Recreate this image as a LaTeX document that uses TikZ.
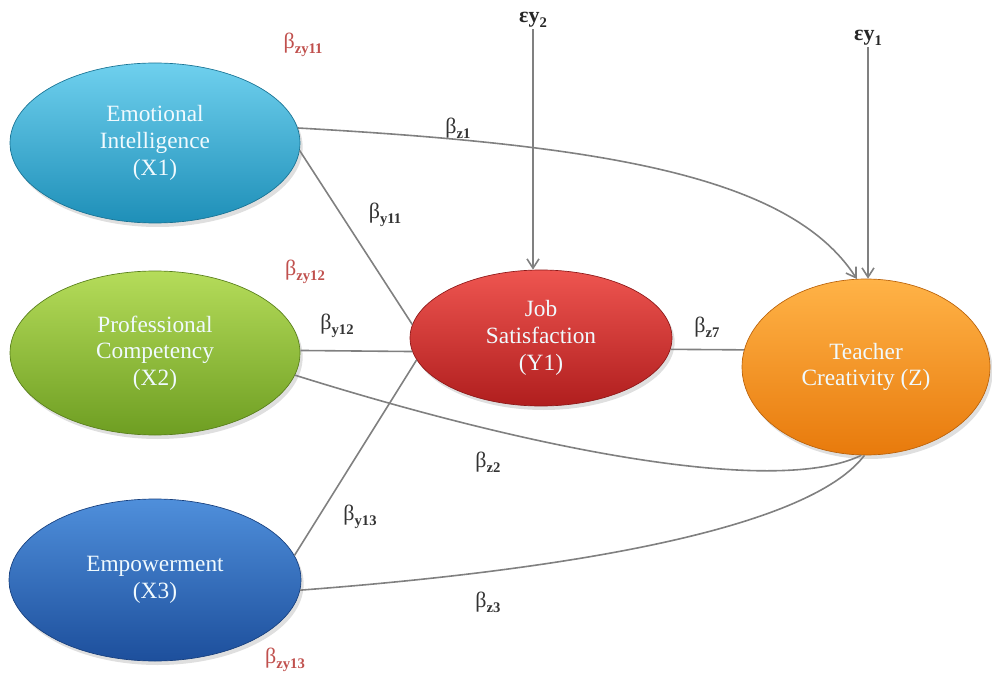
\documentclass[tikz,border=0pt]{standalone}
\usepackage{fontspec}
\setmainfont{Liberation Serif}
\usetikzlibrary{shapes.geometric,arrows.meta,shadows}
\definecolor{cyanT}{HTML}{6FD0EE}
\definecolor{cyanB}{HTML}{1E8FB8}
\definecolor{greenT}{HTML}{B5DC5A}
\definecolor{greenB}{HTML}{6E9E22}
\definecolor{blueT}{HTML}{4F8FDB}
\definecolor{blueB}{HTML}{1D4F9C}
\definecolor{redT}{HTML}{EE5550}
\definecolor{redB}{HTML}{B01E1E}
\definecolor{orangeT}{HTML}{FFB347}
\definecolor{orangeB}{HTML}{E87A0C}
\definecolor{redlab}{HTML}{C0504D}
\definecolor{linegray}{HTML}{808080}
\newcommand{\betalab}[1]{β\raisebox{-0.5ex}{\fontsize{11}{11}\selectfont\bfseries #1}}
\newcommand{\epslab}[1]{\textbf{εy}\raisebox{-0.45ex}{\fontsize{11}{11}\selectfont\bfseries #1}}
\begin{document}
\begin{tikzpicture}[x=0.75pt,y=-0.75pt,
  var/.style={ellipse, inner sep=0pt, align=center, line width=0.5pt,
    font=\fontsize{17.5}{20}\selectfont, text=white!94!cyan,
    drop shadow={opacity=0.25, shadow xshift=2pt, shadow yshift=-3pt}},
  conn/.style={draw=linegray, line width=1.2pt},
  arr/.style={conn, -{Straight Barb[length=7pt,width=9pt]}},
  lab/.style={font=\fontsize{16.5}{16}\selectfont, text=black!80, inner sep=1pt},
  rlab/.style={lab, text=redlab},
  elab/.style={font=\fontsize{16.5}{16}\selectfont, text=black!85, inner sep=1pt}]
\useasboundingbox (0,0) rectangle (992,677);

% variables
\node[var, minimum width=217.5pt, minimum height=120pt, top color=cyanT, bottom color=cyanB, draw=cyanB!80!black]
  (x1) at (155,143) {Emotional\\Intelligence\\(X1)};
\node[var, minimum width=217.5pt, minimum height=123pt, top color=greenT, bottom color=greenB, draw=greenB!80!black]
  (x2) at (155,353) {Professional\\Competency\\(X2)};
\node[var, minimum width=219pt, minimum height=121.5pt, top color=blueT, bottom color=blueB, draw=blueB!80!black]
  (x3) at (155,580) {Empowerment\\(X3)};
\node[var, minimum width=196.5pt, minimum height=102pt, top color=redT, bottom color=redB, draw=redB!80!black]
  (y1) at (541,338) {Job\\Satisfaction\\(Y1)};
\node[var, minimum width=186pt, minimum height=132pt, top color=orangeT, bottom color=orangeB, draw=orangeB!80!black]
  (z) at (866,367) {Teacher\\Creativity (Z)};

% error terms
\node[elab] (e2) at (533,20) {\epslab{2}};
\node[elab] (e1) at (868,38) {\epslab{1}};

% connectors
\draw[conn] (x1.-3) -- (y1.174);
\draw[conn] (x2.1) -- (y1.186);
\draw[conn] (x3.10) -- (y1.190);
\draw[conn] (y1.-5) -- (z.172);
\draw[arr] (x1.6) .. controls (600,145) and (790,175) .. (z.96);
\draw[conn] (x2.-9) .. controls (550,455) and (780,495) .. (z.-93);
\draw[conn] (x3.-4) .. controls (500,575) and (800,540) .. (z.-91);
\draw[arr] (e2.south) -- (e2.south |- y1.north);
\draw[arr] (e1.south) -- (e1.south |- z.north);

% labels
\node[rlab] (lzy11) at (303,45) {\betalab{zy11}};
\node[rlab] (lzy12) at (305,272) {\betalab{zy12}};
\node[rlab] (lzy13) at (285,660) {\betalab{zy13}};
\node[lab] (lz1) at (458,128) {\betalab{z1}};
\node[lab] (ly11) at (385,215) {\betalab{y11}};
\node[lab] (ly12) at (337,326) {\betalab{y12}};
\node[lab] (lz7) at (707,327) {\betalab{z7}};
\node[lab] (lz2) at (488,462) {\betalab{z2}};
\node[lab] (ly13) at (360,517) {\betalab{y13}};
\node[lab] (lz3) at (488,602) {\betalab{z3}};
\end{tikzpicture}
\end{document}
